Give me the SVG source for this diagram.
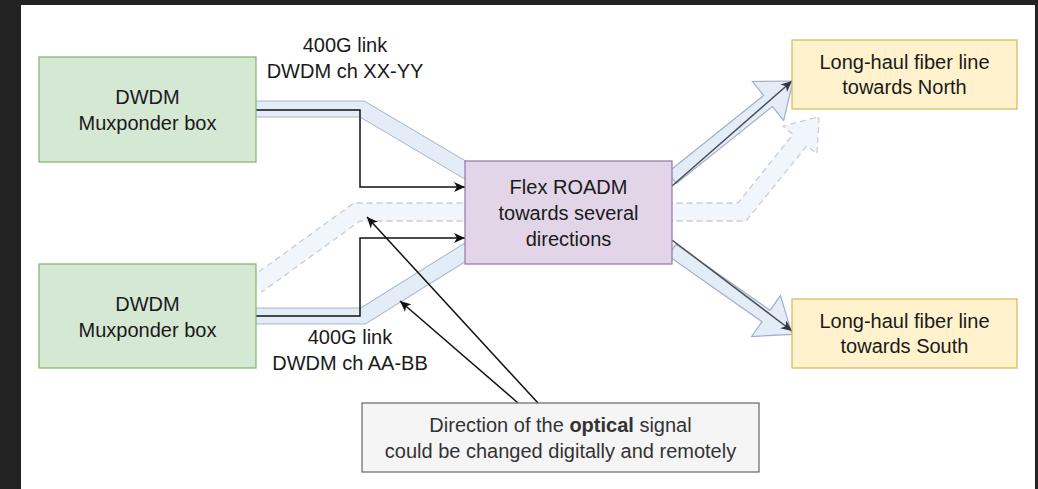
<svg xmlns="http://www.w3.org/2000/svg" width="1038" height="489" viewBox="0 0 1038 489">
  <defs>
    <style>
      .t { font-family: "Liberation Sans", Arial, sans-serif; font-size: 20px; fill: #1a1a1a; text-anchor: middle; }
      .note { fill: #333333; }
      .edge { fill: none; stroke: #111111; stroke-width: 1.5; }
      .thin { fill: none; stroke: #4a4f57; stroke-width: 1.5; }
      .bandOut { fill: none; stroke: #a9b9cd; stroke-width: 17; stroke-linejoin: miter; }
      .bandIn { fill: none; stroke: #e4ecf8; stroke-width: 15; stroke-linejoin: miter; }
      .flex { fill: #e4ecf8; stroke: #9fb0c6; stroke-width: 1.2; }
      .dashFill { fill: #f1f5fc; stroke: none; }
      .dashLine { fill: none; stroke: #c9ced6; stroke-width: 1.3; stroke-dasharray: 6 4; }
    </style>
    <marker id="arr" markerUnits="userSpaceOnUse" markerWidth="12" markerHeight="10" refX="11" refY="5" orient="auto">
      <path d="M0,0 L11,5 L0,10 L3,5 Z" fill="#111111"/>
    </marker>
    <marker id="arrG" markerUnits="userSpaceOnUse" markerWidth="12" markerHeight="10" refX="11" refY="5" orient="auto">
      <path d="M0,0 L11,5 L0,10 L3,5 Z" fill="#333840"/>
    </marker>
  </defs>

  <rect x="0" y="0" width="1038" height="489" fill="#232323"/>
  <rect x="21" y="5" width="1014" height="484" fill="#ffffff"/>

  <g id="connectors">
    <!-- dashed (alternative) flex arrow -->
    <path class="dashFill" d="M250.7,277.7 L354,203 L738,203 L793,134.4 L783,126.2 L819,116.7 L817,153.8 L807,145.6 L746,221 L360,221 L261.3,292.3 Z"/>
    <path class="dashLine" d="M250.7,277.7 L354,203 L738,203 L793,134.4 L783,126.2 L819,116.7 L817,153.8 L807,145.6 L746,221 L360,221 L261.3,292.3"/>

    <!-- top solid band -->
    <polyline class="bandOut" points="250,109 362,109 472,174"/>
    <polyline class="bandIn" points="250,109 362,109 472,174"/>
    <!-- bottom solid band -->
    <polyline class="bandOut" points="250,316 363,316 472,248"/>
    <polyline class="bandIn" points="250,316 363,316 472,248"/>

    <!-- North flex arrow -->
    <polygon class="flex" points="667.6,172.5 763.6,95.5 752.4,81.5 793,81 783.7,120.5 772.4,106.5 676.4,183.5"/>
    <!-- South flex arrow -->
    <polygon class="flex" points="676,244.3 770,310.3 780.4,295.6 792.2,334.4 751.6,336.5 762,321.7 668,255.7"/>

    <!-- thin edges to North / South -->
    <line class="thin" x1="672" y1="186" x2="792" y2="81" marker-end="url(#arrG)"/>
    <line class="thin" x1="672" y1="240" x2="792" y2="331" marker-end="url(#arrG)"/>

    <!-- black orthogonal edges into ROADM -->
    <polyline class="edge" points="256,110 360,110 360,187 465,187" marker-end="url(#arr)"/>
    <polyline class="edge" points="256,316 360,316 360,238 465,238" marker-end="url(#arr)"/>

    <!-- callout arrows -->
    <line class="edge" x1="538" y1="403" x2="367" y2="217" marker-end="url(#arr)"/>
    <line class="edge" x1="518" y1="403" x2="400" y2="301" marker-end="url(#arr)"/>

    <!-- link labels -->
    <text class="t" x="345" y="52">400G link</text>
    <text class="t" x="345" y="78">DWDM ch XX-YY</text>
    <text class="t" x="350" y="344">400G link</text>
    <text class="t" x="350" y="370">DWDM ch AA-BB</text>
  </g>

  <g id="mux-top">
    <rect x="39" y="57" width="217" height="105" fill="#d5e8d4" stroke="#82b366" stroke-width="1.2"/>
    <text class="t" x="147.5" y="103.5">DWDM</text>
    <text class="t" x="147.5" y="129.5">Muxponder box</text>
  </g>

  <g id="mux-bottom">
    <rect x="39" y="264" width="217" height="104" fill="#d5e8d4" stroke="#82b366" stroke-width="1.2"/>
    <text class="t" x="147.5" y="310.5">DWDM</text>
    <text class="t" x="147.5" y="336.5">Muxponder box</text>
  </g>

  <g id="roadm">
    <rect x="465" y="161" width="207" height="103" fill="#e1d5e7" stroke="#9673a6" stroke-width="1.2"/>
    <text class="t" x="568.5" y="193.5">Flex ROADM</text>
    <text class="t" x="568.5" y="219.5">towards several</text>
    <text class="t" x="568.5" y="245.5">directions</text>
  </g>

  <g id="north">
    <rect x="792" y="40" width="225" height="69" fill="#fff2cc" stroke="#d6b656" stroke-width="1.2"/>
    <text class="t" x="904.5" y="69">Long-haul fiber line</text>
    <text class="t" x="904.5" y="94">towards North</text>
  </g>

  <g id="south">
    <rect x="792" y="299" width="225" height="69" fill="#fff2cc" stroke="#d6b656" stroke-width="1.2"/>
    <text class="t" x="904.5" y="328">Long-haul fiber line</text>
    <text class="t" x="904.5" y="353">towards South</text>
  </g>

  <g id="note">
    <rect x="362" y="403" width="397" height="69" fill="#f5f5f5" stroke="#666666" stroke-width="1.2"/>
    <text class="t note" x="560.5" y="431.5">Direction of the <tspan font-weight="bold">optical</tspan> signal</text>
    <text class="t note" x="560.5" y="457.5">could be changed digitally and remotely</text>
  </g>
</svg>
